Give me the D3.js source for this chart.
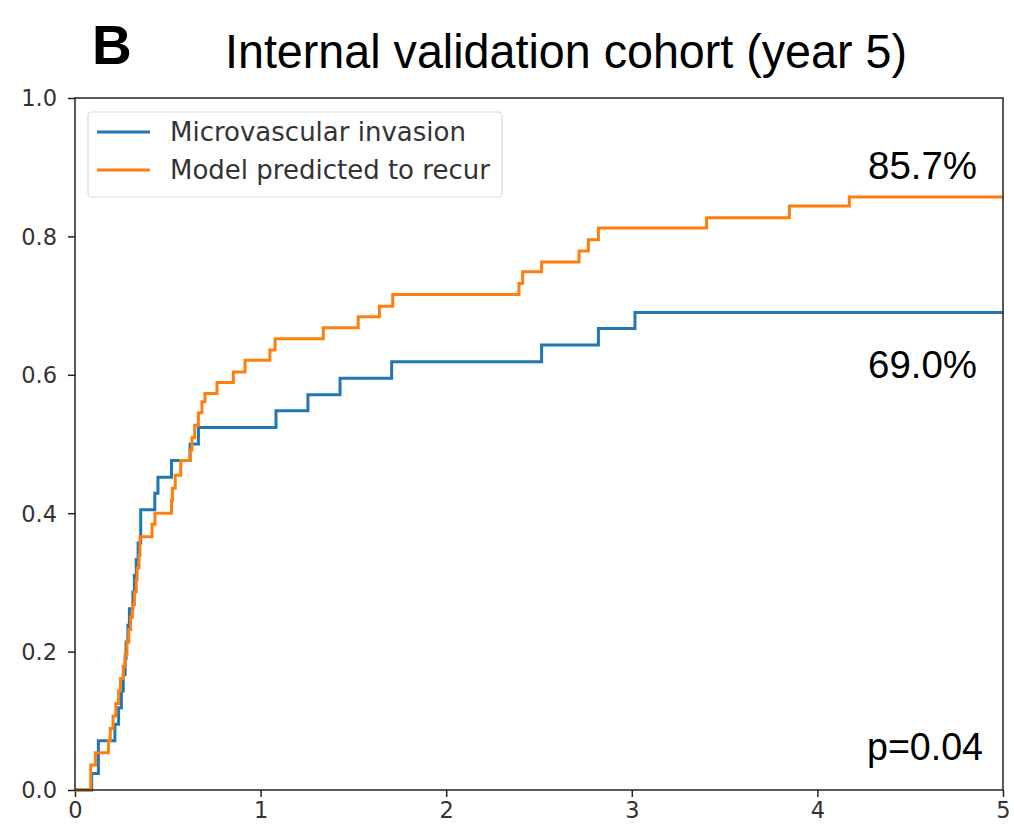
<!DOCTYPE html>
<html>
<head>
<meta charset="utf-8">
<script src="https://cdn.jsdelivr.net/npm/d3@7"></script>
<style>
  body { margin: 0; background: #fff; }
  svg { display: block; }
</style>
</head>
<body>
<script>
// cumulative recurrence, step after each event time (years)
const mviTimes  = [0, 0.09, 0.126, 0.215, 0.235, 0.25, 0.26, 0.27, 0.275, 0.285, 0.293, 0.312, 0.32, 0.33, 0.34, 0.354, 0.43, 0.447, 0.52, 0.62, 0.665, 1.083, 1.255, 1.428, 1.706, 2.514, 2.82, 3.017, 5];
const mviValues = [0, 0.024, 0.071, 0.095, 0.119, 0.143, 0.167, 0.190, 0.214, 0.238, 0.262, 0.286, 0.310, 0.333, 0.357, 0.405, 0.429, 0.452, 0.476, 0.500, 0.524, 0.548, 0.571, 0.595, 0.619, 0.643, 0.667, 0.690, 0.690];

const modelTimes  = [0, 0.085, 0.11, 0.18, 0.19, 0.205, 0.22, 0.235, 0.245, 0.26, 0.27, 0.28, 0.29, 0.30, 0.31, 0.32, 0.33, 0.335, 0.345, 0.35, 0.415, 0.431, 0.52, 0.525, 0.54, 0.57, 0.62, 0.63, 0.645, 0.665, 0.684, 0.70, 0.765, 0.853, 0.916, 1.05, 1.078, 1.338, 1.526, 1.64, 1.712, 2.392, 2.412, 2.514, 2.716, 2.766, 2.82, 3.403, 3.849, 4.172, 5];
const modelValues = [0, 0.036, 0.054, 0.071, 0.089, 0.107, 0.125, 0.143, 0.161, 0.179, 0.196, 0.214, 0.232, 0.250, 0.268, 0.286, 0.304, 0.321, 0.339, 0.366, 0.384, 0.400, 0.418, 0.436, 0.455, 0.476, 0.491, 0.509, 0.527, 0.545, 0.561, 0.573, 0.589, 0.604, 0.621, 0.636, 0.652, 0.668, 0.684, 0.699, 0.716, 0.732, 0.749, 0.763, 0.779, 0.795, 0.812, 0.827, 0.844, 0.857, 0.857];

const seriesNames  = ["Microvascular invasion", "Model predicted to recur"];
const seriesColors = ["#1f77b4", "#ff7f0e"];
const endLabels    = ["69.0%", "85.7%"];
const xTicks = [0, 1, 2, 3, 4, 5];
const yTicks = [0, 0.2, 0.4, 0.6, 0.8, 1.0];

const width = 1014, height = 832;
const margin = {top: 98, right: 11, bottom: 42, left: 75};

const svg = d3.select("body").append("svg")
  .attr("width", width)
  .attr("height", height);

const x = d3.scaleLinear().domain([0, 5]).range([margin.left, width - margin.right]);
const y = d3.scaleLinear().domain([0, 1]).range([height - margin.bottom, margin.top]);

const sans = "Liberation Sans, Arial, sans-serif";

// titles
svg.append("text")
  .attr("x", 92).attr("y", 64)
  .attr("font-family", sans)
  .attr("font-weight", "bold")
  .attr("font-size", 55)
  .text("B");

svg.append("text")
  .attr("x", 225).attr("y", 68)
  .attr("font-family", sans)
  .attr("font-size", 49)
  .attr("textLength", 682)
  .attr("lengthAdjust", "spacingAndGlyphs")
  .text("Internal validation cohort (year 5)");

// axes
const xAxis = svg.append("g")
  .attr("transform", `translate(0,${height - margin.bottom})`)
  .call(d3.axisBottom(x).tickValues(xTicks).tickFormat(d3.format("d")).tickSizeOuter(0).tickSize(7).tickPadding(5));
const yAxis = svg.append("g")
  .attr("transform", `translate(${margin.left},0)`)
  .call(d3.axisLeft(y).tickValues(yTicks).tickFormat(d3.format(".1f")).tickSizeOuter(0).tickSize(7).tickPadding(11));

[xAxis, yAxis].forEach(g => {
  g.select(".domain").remove();
  g.selectAll(".tick line").attr("stroke", "#222").attr("stroke-width", 1.5);
  g.selectAll(".tick text")
    .attr("font-family", "DejaVu Sans, sans-serif")
    .attr("font-size", 22.5)
    .attr("fill", "#333");
});
yAxis.selectAll(".tick text").attr("dy", "0.35em");

// curves
const line = d3.line()
  .x(d => x(d[0]))
  .y(d => y(d[1]))
  .curve(d3.curveStepAfter);

const series = [
  d3.zip(mviTimes, mviValues),
  d3.zip(modelTimes, modelValues)
];

svg.append("g")
  .selectAll("path")
  .data(series)
  .join("path")
  .attr("fill", "none")
  .attr("stroke", (d, i) => seriesColors[i])
  .attr("stroke-width", 3)
  .attr("d", line);

// frame
svg.append("rect")
  .attr("x", margin.left).attr("y", margin.top)
  .attr("width", width - margin.left - margin.right)
  .attr("height", height - margin.top - margin.bottom)
  .attr("fill", "none")
  .attr("stroke", "#222")
  .attr("stroke-width", 1.5);

// legend
const legend = svg.append("g");
legend.append("rect")
  .attr("x", 88).attr("y", 112)
  .attr("width", 414).attr("height", 85)
  .attr("rx", 4)
  .attr("fill", "#fff")
  .attr("stroke", "#d9d9d9")
  .attr("stroke-width", 1.2);

const item = legend.selectAll("g.item")
  .data(seriesNames)
  .join("g")
  .attr("class", "item")
  .attr("transform", (d, i) => `translate(97,${132 + i * 38})`);
item.append("line")
  .attr("x1", 0).attr("x2", 53)
  .attr("stroke", (d, i) => seriesColors[i])
  .attr("stroke-width", 3);
item.append("text")
  .attr("x", 73).attr("dy", "0.35em")
  .attr("font-family", "DejaVu Sans, sans-serif")
  .attr("font-size", 26)
  .attr("fill", "#333")
  .text(d => d);

// end annotations: blue label sits below its line, orange label above
const lastVal = [mviValues[mviValues.length - 1], modelValues[modelValues.length - 1]];
const labelShift = [65, -18];
svg.append("g")
  .selectAll("text")
  .data(endLabels)
  .join("text")
  .attr("x", 977)
  .attr("y", (d, i) => y(lastVal[i]) + labelShift[i])
  .attr("text-anchor", "end")
  .attr("font-family", sans)
  .attr("font-size", 38)
  .attr("textLength", 109)
  .attr("lengthAdjust", "spacingAndGlyphs")
  .text(d => d);

svg.append("text")
  .attr("x", 983).attr("y", 760)
  .attr("text-anchor", "end")
  .attr("font-family", sans)
  .attr("font-size", 38)
  .attr("textLength", 116)
  .attr("lengthAdjust", "spacingAndGlyphs")
  .text("p=0.04");
</script>
</body>
</html>
